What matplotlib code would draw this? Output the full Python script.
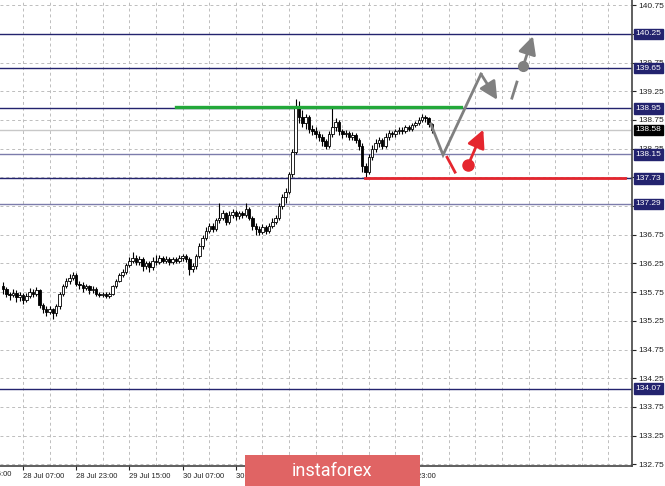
import matplotlib
matplotlib.use("Agg")
from matplotlib import pyplot as plt
from matplotlib.patches import Rectangle
import numpy as np

plt.rcParams["font.family"] = ["Liberation Sans", "DejaVu Sans"]

# H1 candles, closes (open = previous close)
first_open = 135.85
closes = [135.80, 135.72, 135.70, 135.74, 135.66, 135.70, 135.62, 135.68, 135.76, 135.72,
          135.78, 135.52, 135.45, 135.40, 135.45, 135.38, 135.50, 135.72, 135.85, 135.95,
          136.00, 136.05, 135.90, 135.88, 135.82, 135.85, 135.78, 135.80, 135.72, 135.70,
          135.72, 135.68, 135.72, 135.85, 135.95, 136.05, 136.10, 136.22, 136.30, 136.35,
          136.28, 136.32, 136.20, 136.25, 136.18, 136.30, 136.28, 136.35, 136.30, 136.33,
          136.28, 136.32, 136.30, 136.35, 136.38, 136.32, 136.15, 136.20, 136.38, 136.55,
          136.70, 136.82, 136.90, 136.85, 137.00, 137.05, 137.12, 136.98, 137.10, 137.15,
          137.08, 137.12, 137.10, 137.20, 137.05, 136.90, 136.85, 136.80, 136.88, 136.82,
          136.90, 136.98, 137.05, 137.25, 137.40, 137.50, 137.80, 138.20, 138.95, 138.80,
          138.70, 138.80, 138.60, 138.55, 138.50, 138.45, 138.38, 138.30, 138.50, 138.62,
          138.72, 138.55, 138.50, 138.52, 138.45, 138.48, 138.40, 138.30, 137.95, 137.85,
          138.10, 138.25, 138.35, 138.40, 138.30, 138.45, 138.52, 138.50, 138.55, 138.58,
          138.55, 138.62, 138.60, 138.66, 138.70, 138.75, 138.80, 138.78, 138.68, 138.58]
highs = [135.92, 135.84, 135.76, 135.80, 135.78, 135.75, 135.74, 135.74, 135.82, 135.80,
         135.84, 135.80, 135.56, 135.50, 135.50, 135.48, 135.55, 135.76, 135.90, 136.00,
         136.06, 136.10, 136.08, 135.95, 135.92, 135.90, 135.88, 135.86, 135.84, 135.76,
         135.76, 135.75, 135.76, 135.88, 135.98, 136.08, 136.15, 136.26, 136.36, 136.45,
         136.40, 136.38, 136.36, 136.30, 136.30, 136.36, 136.40, 136.40, 136.38, 136.38,
         136.36, 136.37, 136.36, 136.40, 136.42, 136.42, 136.36, 136.26, 136.42, 136.60,
         136.75, 136.88, 136.96, 136.95, 137.05, 137.30, 137.18, 137.15, 137.16, 137.20,
         137.18, 137.17, 137.16, 137.30, 137.24, 137.08, 136.95, 136.90, 136.94, 136.92,
         136.95, 137.04, 137.10, 137.30, 137.46, 137.56, 137.85, 138.25, 139.12, 139.08,
         138.92, 138.86, 138.84, 138.66, 138.62, 138.56, 138.50, 138.42, 138.55, 138.98,
         138.78, 138.75, 138.60, 138.58, 138.56, 138.54, 138.52, 138.44, 138.34, 138.00,
         138.15, 138.32, 138.42, 138.46, 138.44, 138.52, 138.58, 138.56, 138.60, 138.63,
         138.62, 138.66, 138.66, 138.70, 138.74, 138.80, 138.86, 138.84, 138.80, 138.70]
lows = [135.72, 135.66, 135.62, 135.66, 135.58, 135.60, 135.55, 135.58, 135.64, 135.66,
        135.68, 135.48, 135.38, 135.33, 135.36, 135.28, 135.34, 135.46, 135.68, 135.82,
        135.90, 135.96, 135.86, 135.80, 135.76, 135.78, 135.72, 135.74, 135.68, 135.66,
        135.66, 135.64, 135.64, 135.70, 135.82, 135.92, 136.02, 136.06, 136.18, 136.26,
        136.22, 136.22, 136.12, 136.15, 136.10, 136.14, 136.22, 136.24, 136.26, 136.26,
        136.22, 136.24, 136.26, 136.26, 136.30, 136.28, 136.05, 136.10, 136.16, 136.34,
        136.50, 136.66, 136.78, 136.80, 136.82, 136.95, 137.00, 136.92, 136.94, 137.05,
        137.00, 137.02, 137.04, 137.06, 137.00, 136.84, 136.75, 136.74, 136.76, 136.76,
        136.78, 136.86, 136.94, 137.00, 137.20, 137.30, 137.46, 137.76, 138.15, 138.70,
        138.62, 138.60, 138.52, 138.48, 138.44, 138.38, 138.30, 138.24, 138.26, 138.46,
        138.56, 138.48, 138.44, 138.45, 138.40, 138.40, 138.34, 138.22, 137.85, 137.72,
        137.80, 138.05, 138.20, 138.28, 138.24, 138.26, 138.40, 138.45, 138.46, 138.50,
        138.50, 138.52, 138.56, 138.56, 138.62, 138.66, 138.72, 138.72, 138.62, 138.52]

# support / resistance levels and their colours
levels = [140.25, 139.65, 138.95, 138.15, 137.73, 137.29, 134.07]
level_colors = ["#23236e", "#23236e", "#23236e", "#7c7cab", "#23236e", "#7c7cab", "#23236e"]
last_price = 138.58

time_ticks = [6, 22, 38, 54, 70, 86, 102, 118]
time_labels = ["28 Jul 07:00", "28 Jul 23:00", "29 Jul 15:00", "30 Jul 07:00",
               "30 Jul 23:00", "31 Jul 15:00", "3 Aug 07:00", "3 Aug 23:00"]

# forecast drawing (bar index, price)
green_x = [52, 137.7]
green_y = [138.97, 138.97]
red_level_x = [108.8, 187]
red_level_y = [137.73, 137.73]
gray_path_x = [128.6, 132.3, 143.7]
gray_path_y = [138.68, 138.14, 139.55]
gray_arrow1 = [(143.7, 139.55), (148.6, 139.10)]
gray_dash = [(153.0, 139.13), (154.5, 139.41)]
gray_dot = (156.4, 139.69)
gray_arrow2 = (159.3, 140.21)
red_stroke = [(133.5, 138.10), (135.9, 137.84)]
red_dot = (139.8, 137.96)
red_arrow = (144.4, 138.58)

fig = plt.figure(figsize=(6.65, 4.86), dpi=100)
ax = fig.add_axes([0, 20 / 486, 632 / 665, 466 / 486])
ax.set_xlim(-0.9, 189.1)
ax.set_ylim(132.72, 140.84)

# grid
yt = np.arange(132.75, 140.8, 0.5)
ax.set_yticks(yt)
ax.set_yticklabels(["%.2f" % v for v in yt])
for gx in np.arange(6, 190, 8):
    ax.axvline(gx, color="#bdbdbd", lw=0.7, ls=(0, (3, 3)), zorder=0)
for gy in yt:
    ax.axhline(gy, color="#bdbdbd", lw=0.7, ls=(0, (3, 3)), zorder=0)

# level lines
for lv, lc in zip(levels, level_colors):
    ax.axhline(lv, color=lc, lw=1.0, zorder=1)
ax.axhline(last_price, color="#c8c8c8", lw=1.0, zorder=1)

# candles
idx = np.arange(len(closes))
opens = [first_open] + closes[:-1]
ax.vlines(idx, lows, highs, color="black", lw=0.8, zorder=3)
for i in idx:
    o, c = opens[i], closes[i]
    bottom = min(o, c)
    h = max(abs(c - o), 0.012)
    fc = "white" if c >= o else "black"
    ax.add_patch(Rectangle((i - 0.38, bottom), 0.76, h, facecolor=fc,
                           edgecolor="black", lw=0.6, zorder=4))

# forecast lines
gray = "#808080"
red = "#e5262e"
head = "-|>,head_length=0.9,head_width=0.45"
ax.plot(green_x, green_y, color="#23a83a", lw=2.4, zorder=5)
ax.plot(red_level_x, red_level_y, color=red, lw=2.0, zorder=5)
ax.plot(gray_path_x, gray_path_y, color=gray, lw=2.0, zorder=6, solid_joinstyle="miter")
ax.annotate("", xy=gray_arrow1[1], xytext=gray_arrow1[0],
            arrowprops=dict(arrowstyle=head, color=gray, lw=2.0, mutation_scale=12,
                            shrinkA=0, shrinkB=0), zorder=6)
ax.plot([p[0] for p in gray_dash], [p[1] for p in gray_dash], color=gray, lw=2.0, zorder=6)
ax.plot(*gray_dot, "o", color=gray, ms=7, zorder=6)
ax.annotate("", xy=gray_arrow2, xytext=gray_dot,
            arrowprops=dict(arrowstyle=head, color=gray, lw=2.0, mutation_scale=12,
                            shrinkA=0, shrinkB=0), zorder=6)
ax.plot([p[0] for p in red_stroke], [p[1] for p in red_stroke], color=red, lw=2.0, zorder=6)
ax.plot(*red_dot, "o", color=red, ms=8, zorder=6)
ax.annotate("", xy=red_arrow, xytext=red_dot,
            arrowprops=dict(arrowstyle=head, color=red, lw=2.0, mutation_scale=12,
                            shrinkA=0, shrinkB=0), zorder=6)

# axes look
ax.yaxis.tick_right()
ax.tick_params(axis="y", labelsize=6, colors="#222222", length=3, width=0.8, pad=1.5)
ax.set_xticks(time_ticks)
ax.set_xticklabels(time_labels)
ax.tick_params(axis="x", labelsize=5.5, colors="#222222", length=3, width=0.8, pad=2)
for lab in ax.get_xticklabels():
    lab.set_horizontalalignment("left")
ax.text(-10, -0.011, "27 Jul 15:00", transform=ax.get_xaxis_transform(), fontsize=5.5,
        color="#222222", ha="left", va="top", clip_on=False)
for s in ["left", "top"]:
    ax.spines[s].set_visible(False)
for s in ["right", "bottom"]:
    ax.spines[s].set_color("#444444")
    ax.spines[s].set_linewidth(1.2)

# level price boxes on the right
for lv in levels:
    ax.text(1.006, lv, "%.2f" % lv, transform=ax.get_yaxis_transform(), fontsize=6,
            color="white", ha="left", va="center", zorder=10, clip_on=False,
            bbox=dict(boxstyle="square,pad=0.2", fc="#23236e", ec="#23236e"))
ax.text(1.006, last_price, "%.2f" % last_price, transform=ax.get_yaxis_transform(), fontsize=6,
        color="white", ha="left", va="center", zorder=10, clip_on=False,
        bbox=dict(boxstyle="square,pad=0.2", fc="black", ec="black"))

# logo
fig.patches.append(Rectangle((245 / 665, 0), 175 / 665, 31 / 486, transform=fig.transFigure,
                             facecolor="#e06464", edgecolor="none", zorder=20))
fig.text(332 / 665, 15 / 486, "instaforex", color="white", fontsize=13, family="Roboto",
         ha="center", va="center", zorder=21)

plt.savefig("out.png", dpi=100)
